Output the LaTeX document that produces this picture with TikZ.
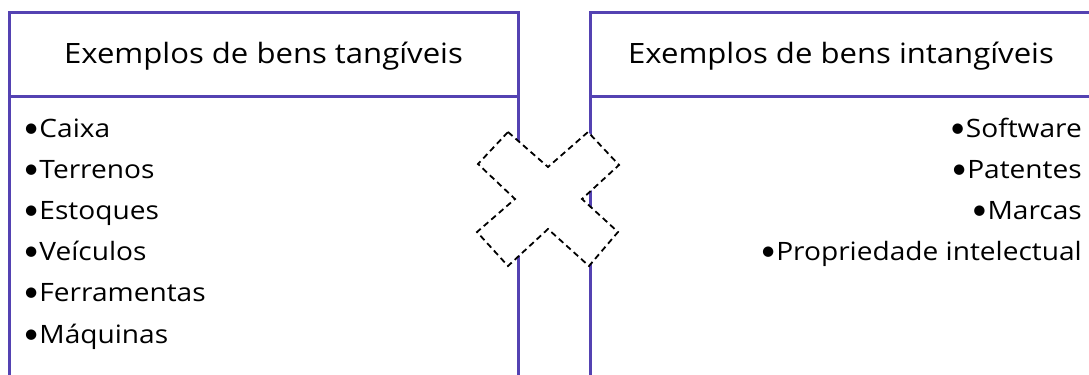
\documentclass[tikz,border=0pt]{standalone}
\usepackage{fontspec}
\setmainfont[FakeStretch=1.11]{Open Sans}
\newfontfamily\bulfont{Lato}
\newcommand{\bul}{{\bulfont\fontsize{28bp}{28bp}\selectfont •}}
\definecolor{boxc}{RGB}{84,66,178}
\tikzset{
  frame/.style={draw=boxc, line width=3bp},
  head/.style={font=\fontsize{28bp}{32bp}\selectfont, inner sep=0pt, anchor=base},
  item/.style={font=\fontsize{25.3bp}{30bp}\selectfont, inner sep=0pt},
  cross/.style={draw=black, fill=white, line width=1.8bp, dash pattern=on 6bp off 4bp, line join=miter}
}
\begin{document}
\begin{tikzpicture}[x=1bp,y=-1bp]
\useasboundingbox (0,0) rectangle (1089,374);
\clip (0,0) rectangle (1089,374);
% left box
\draw[frame] (9,380) -- (9,12) -- (518,12) -- (518,380);
\draw[frame] (9,96) -- (518,96);
% right box
\draw[frame] (590,380) -- (590,12) -- (1100,12);
\draw[frame] (590,96) -- (1100,96);
% headers
\node[head] (hl) at (263.5,63) {Exemplos de bens tangíveis};
\node[head] (hr) at (841,63) {Exemplos de bens intangíveis};
% left list
\foreach \t [count=\i from 0] in {Caixa,Terrenos,Estoques,Veículos,Ferramentas,Máquinas}{
  \node[item, anchor=base west] (l\i) at (23,{137+41.2*\i}) {\bul\t};
}
% right list
\foreach \t [count=\i from 0] in {Software,Patentes,Marcas,Propriedade intelectual}{
  \node[item, anchor=base east] (r\i) at (1082,{137+41.2*\i}) {\bul\t};
}
% cross
\draw[cross] (508,132) -- (548,167) -- (588,132) -- (619,165) -- (582,199)
  -- (618,232) -- (589,266) -- (548,229) -- (508,266) -- (477,232)
  -- (515,199) -- (478,164) -- cycle;
\end{tikzpicture}
\end{document}
